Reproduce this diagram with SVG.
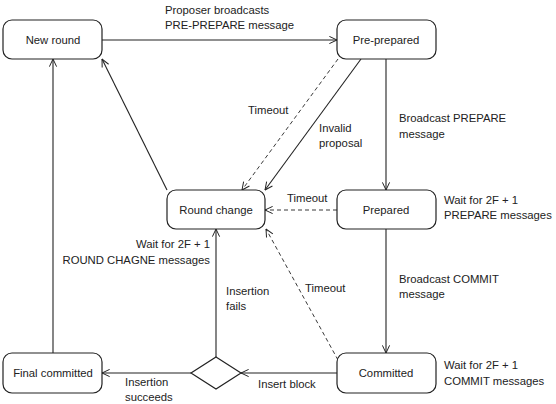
<svg xmlns="http://www.w3.org/2000/svg" width="556" height="404" viewBox="0 0 556 404">
<style>
  .node rect, .node polygon { fill: #fff; stroke: #222; stroke-width: 1.2; }
  text { font-family: "Liberation Sans", Arial, sans-serif; font-size: 11.3px; fill: #222; }
  .c { text-anchor: middle; }
  .r { text-anchor: end; }
  .edge { fill: none; stroke: #222; stroke-width: 1.1; }
  .dash { stroke-dasharray: 4 3; stroke-width: 0.9; }
</style>
<defs>
  <marker id="arr" viewBox="0 0 10 10" refX="9.5" refY="5" markerWidth="9" markerHeight="9" orient="auto" markerUnits="userSpaceOnUse">
    <path d="M1,1 L9.5,5 L1,9" fill="none" stroke="#222" stroke-width="1.1"/>
  </marker>
</defs>
<rect width="556" height="404" fill="#fff"/>
<g id="connectors">
  <path class="edge" d="M102,40 L337,40" marker-end="url(#arr)"/>
  <path class="edge" d="M386,59 L386,190" marker-end="url(#arr)"/>
  <path class="edge" d="M386,229 L386,353" marker-end="url(#arr)"/>
  <path class="edge" d="M337,373 L241,373" marker-end="url(#arr)"/>
  <path class="edge" d="M191,373 L102,373" marker-end="url(#arr)"/>
  <path class="edge" d="M216,357 L216,229" marker-end="url(#arr)"/>
  <path class="edge" d="M53,353 L53,59" marker-end="url(#arr)"/>
  <path class="edge" d="M167,190 L102,59" marker-end="url(#arr)"/>
  <path class="edge dash" d="M338,59 L242,190" marker-end="url(#arr)"/>
  <path class="edge" d="M361,59 L265,190" marker-end="url(#arr)"/>
  <path class="edge dash" d="M337,210 L265,210" marker-end="url(#arr)"/>
  <path class="edge dash" d="M338,360 L266,229" marker-end="url(#arr)"/>
</g>
<g id="labels">
  <text x="165" y="14">Proposer broadcasts</text>
  <text x="165" y="29">PRE-PREPARE message</text>
  <text x="248" y="114">Timeout</text>
  <text x="319" y="132">Invalid</text>
  <text x="319" y="147">proposal</text>
  <text x="399" y="122">Broadcast PREPARE</text>
  <text x="399" y="138">message</text>
  <text x="287" y="202">Timeout</text>
  <text x="444" y="204">Wait for 2F + 1</text>
  <text x="444" y="219">PREPARE messages</text>
  <text x="210" y="248" class="r">Wait for 2F + 1</text>
  <text x="210" y="264" class="r">ROUND CHAGNE messages</text>
  <text x="399" y="283">Broadcast COMMIT</text>
  <text x="399" y="298">message</text>
  <text x="305" y="292">Timeout</text>
  <text x="226" y="295">Insertion</text>
  <text x="226" y="310">fails</text>
  <text x="444" y="369">Wait for 2F + 1</text>
  <text x="444" y="385">COMMIT messages</text>
  <text x="258" y="388">Insert block</text>
  <text x="125" y="386">Insertion</text>
  <text x="125" y="401">succeeds</text>
</g>
<g id="new-round" class="node">
  <rect x="3" y="20" width="99" height="39" rx="9"/>
  <text x="53" y="44" class="c">New round</text>
</g>
<g id="pre-prepared" class="node">
  <rect x="337" y="20" width="99" height="39" rx="9"/>
  <text x="386" y="44" class="c">Pre-prepared</text>
</g>
<g id="round-change" class="node">
  <rect x="167" y="190" width="98" height="39" rx="9"/>
  <text x="216" y="214" class="c">Round change</text>
</g>
<g id="prepared" class="node">
  <rect x="337" y="190" width="99" height="39" rx="9"/>
  <text x="386" y="214" class="c">Prepared</text>
</g>
<g id="committed" class="node">
  <rect x="337" y="353" width="99" height="40" rx="9"/>
  <text x="386" y="377" class="c">Committed</text>
</g>
<g id="final-committed" class="node">
  <rect x="3" y="353" width="99" height="40" rx="9"/>
  <text x="53" y="377" class="c">Final committed</text>
</g>
<g id="decision" class="node">
  <polygon points="216,357 241,373 216,389 191,373"/>
</g>
</svg>
